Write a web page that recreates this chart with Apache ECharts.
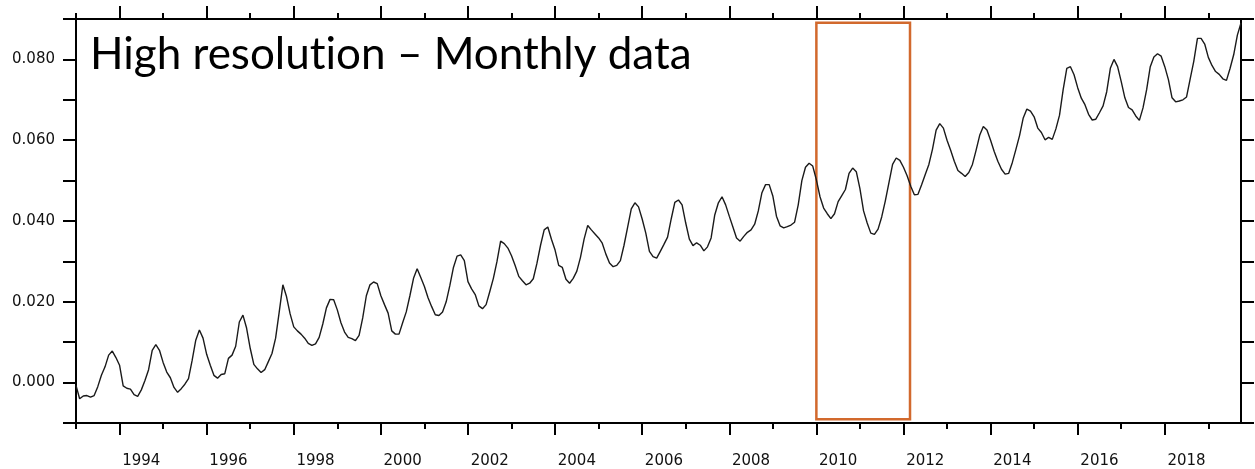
<!DOCTYPE html>
<html>
<head>
<meta charset="utf-8">
<script src="https://cdn.jsdelivr.net/npm/echarts@6/dist/echarts.min.js"></script>
<style>
  html, body { margin: 0; padding: 0; background: #fff; }
  #chart { width: 1255px; height: 469px; }
</style>
</head>
<body>
<div id="chart"></div>
<script>
// ---- data (monthly, starting January 1993) ----
const startYear = 1993;
// title split into two rich-text pieces so the font does not draw a "ti" ligature
const titleParts = ['High resolut', 'ion \u2013 Monthly data'];

const values1993to1999 = [
  -0.0007, -0.0040, -0.0033, -0.0032, -0.0036, -0.0032, -0.0010, 0.0018, 0.0039, 0.0068, 0.0078, 0.0062,
  0.0043, -0.0008, -0.0014, -0.0016, -0.0030, -0.0034, -0.0018, 0.0005, 0.0032, 0.0080, 0.0094, 0.0080,
  0.0050, 0.0026, 0.0012, -0.0012, -0.0024, -0.0015, -0.0004, 0.0010, 0.0055, 0.0105, 0.0130, 0.0110,
  0.0070, 0.0043, 0.0018, 0.0011, 0.0020, 0.0022, 0.0060, 0.0068, 0.0090, 0.0150, 0.0167, 0.0135,
  0.0085, 0.0045, 0.0034, 0.0025, 0.0032, 0.0052, 0.0072, 0.0110, 0.0175, 0.0242, 0.0213, 0.0170,
  0.0138, 0.0128, 0.0120, 0.0110, 0.0097, 0.0092, 0.0096, 0.0112, 0.0145, 0.0185, 0.0206, 0.0205,
  0.0180, 0.0148, 0.0125, 0.0112, 0.0109, 0.0104, 0.0117, 0.0160, 0.0215, 0.0242, 0.0249, 0.0245
];
const values2000to2009 = [
  0.0215, 0.0193, 0.0172, 0.0128, 0.0120, 0.0120, 0.0148, 0.0175, 0.0215, 0.0258, 0.0282, 0.0260,
  0.0238, 0.0210, 0.0188, 0.0168, 0.0166, 0.0175, 0.0200, 0.0240, 0.0285, 0.0313, 0.0316, 0.0302,
  0.0250, 0.0232, 0.0218, 0.0190, 0.0183, 0.0193, 0.0225, 0.0258, 0.0300, 0.0350, 0.0344, 0.0333,
  0.0314, 0.0290, 0.0263, 0.0252, 0.0242, 0.0246, 0.0257, 0.0295, 0.0340, 0.0378, 0.0385, 0.0355,
  0.0328, 0.0290, 0.0285, 0.0256, 0.0246, 0.0258, 0.0276, 0.0310, 0.0355, 0.0389, 0.0378, 0.0368,
  0.0358, 0.0345, 0.0318, 0.0296, 0.0287, 0.0290, 0.0302, 0.0340, 0.0385, 0.0430, 0.0445, 0.0435,
  0.0405, 0.0370, 0.0325, 0.0312, 0.0308, 0.0325, 0.0342, 0.0360, 0.0405, 0.0446, 0.0452, 0.0440,
  0.0395, 0.0355, 0.0339, 0.0346, 0.0340, 0.0326, 0.0336, 0.0358, 0.0415, 0.0445, 0.0460, 0.0440,
  0.0412, 0.0385, 0.0358, 0.0350, 0.0362, 0.0372, 0.0378, 0.0392, 0.0425, 0.0470, 0.0490, 0.0490,
  0.0462, 0.0412, 0.0388, 0.0383, 0.0386, 0.0390, 0.0397, 0.0440, 0.0500, 0.0533, 0.0543, 0.0536
];
const values2010to2019 = [
  0.0502, 0.0460, 0.0432, 0.0418, 0.0406, 0.0418, 0.0448, 0.0463, 0.0478, 0.0518, 0.0531, 0.0522,
  0.0480, 0.0425, 0.0395, 0.0370, 0.0367, 0.0380, 0.0410, 0.0450, 0.0495, 0.0540, 0.0556, 0.0550,
  0.0533, 0.0512, 0.0486, 0.0465, 0.0466, 0.0490, 0.0515, 0.0540, 0.0578, 0.0625, 0.0641, 0.0630,
  0.0600, 0.0575, 0.0548, 0.0525, 0.0518, 0.0510, 0.0520, 0.0540, 0.0575, 0.0612, 0.0634, 0.0625,
  0.0600, 0.0572, 0.0548, 0.0528, 0.0516, 0.0518, 0.0545, 0.0578, 0.0612, 0.0655, 0.0677, 0.0672,
  0.0658, 0.0630, 0.0619, 0.0601, 0.0607, 0.0602, 0.0628, 0.0662, 0.0725, 0.0778, 0.0782, 0.0762,
  0.0730, 0.0704, 0.0688, 0.0664, 0.0650, 0.0652, 0.0668, 0.0685, 0.0720, 0.0778, 0.0800, 0.0782,
  0.0745, 0.0705, 0.0681, 0.0675, 0.0660, 0.0649, 0.0680, 0.0725, 0.0782, 0.0806, 0.0814, 0.0808,
  0.0782, 0.0750, 0.0705, 0.0695, 0.0697, 0.0700, 0.0707, 0.0752, 0.0796, 0.0852, 0.0852, 0.0838,
  0.0805, 0.0785, 0.0770, 0.0763, 0.0752, 0.0748, 0.0778, 0.0812, 0.0860, 0.0890
];

const yearTickValues = [1993,1994,1995,1996,1997,1998,1999,2000,2001,2002,2003,2004,2005,2006,
  2007,2008,2009,2010,2011,2012,2013,2014,2015,2016,2017,2018,2019];
const labelledYears = [1994,1996,1998,2000,2002,2004,2006,2008,2010,2012,2014,2016,2018];

// highlighted window (years, value)
const boxYears = [2010.0, 2012.15];
const boxValues = [-0.0091, 0.0891];

// ---- build ----
const allValues = values1993to1999.concat(values2000to2009, values2010to2019);
const seriesData = allValues.map((v, i) => [startYear + i / 12, v]);

const xMin = 1993, xMax = 2019.75;
const yMin = -0.01, yMax = 0.09;

const black = '#000';
const axisLineStyle = { show: true, onZero: false, lineStyle: { color: black, width: 2 } };
const noLine = { show: false, onZero: false };
const tickStyle = { color: black, width: 2 };
const labelFont = { fontFamily: 'DejaVu Sans', fontSize: 15, color: '#111' };
const titleFont = { fontFamily: 'Lato', fontSize: 44, fontWeight: 'normal', color: '#000' };

function xAxisBase(pos) {
  return { type: 'value', min: xMin, max: xMax, position: pos, splitLine: { show: false }, gridIndex: 0 };
}

const xAxes = [
  Object.assign(xAxisBase('bottom'), {
    axisLine: axisLineStyle,
    axisTick: { show: true, customValues: yearTickValues, length: 6, lineStyle: tickStyle },
    axisLabel: Object.assign({
      show: true,
      customValues: labelledYears.map(y => y + 0.5),
      formatter: v => String(Math.floor(v)),
      margin: 31
    }, labelFont)
  }),
  Object.assign(xAxisBase('bottom'), {
    axisLine: noLine,
    axisTick: { show: true, customValues: labelledYears, length: 12, lineStyle: tickStyle },
    axisLabel: { show: false }
  }),
  Object.assign(xAxisBase('top'), {
    axisLine: axisLineStyle,
    axisTick: { show: true, customValues: yearTickValues, length: 6, lineStyle: tickStyle },
    axisLabel: { show: false }
  }),
  Object.assign(xAxisBase('top'), {
    axisLine: noLine,
    axisTick: { show: true, customValues: labelledYears, length: 13, lineStyle: tickStyle },
    axisLabel: { show: false }
  })
];

const yAxes = [
  {
    type: 'value', min: yMin, max: yMax, interval: 0.01, position: 'left',
    splitLine: { show: false },
    axisLine: axisLineStyle,
    axisTick: { show: true, length: 13, lineStyle: tickStyle },
    axisLabel: Object.assign({
      margin: 21,
      formatter: v => (Math.round(v * 1000) % 20 === 0 ? v.toFixed(3) : '')
    }, labelFont)
  },
  {
    type: 'value', min: yMin, max: yMax, interval: 0.01, position: 'right',
    splitLine: { show: false },
    axisLine: axisLineStyle,
    axisTick: { show: true, length: 13, lineStyle: tickStyle },
    axisLabel: { show: false }
  }
];

const chart = echarts.init(document.getElementById('chart'), null, { renderer: 'canvas' });
chart.setOption({
  animation: false,
  backgroundColor: '#fff',
  title: {
    text: titleParts.map(p => '{t|' + p + '}').join(''),
    left: 90,
    top: 33,
    padding: 0,
    textStyle: Object.assign({ rich: { t: titleFont } }, titleFont)
  },
  grid: { left: 76, right: 14, top: 19, bottom: 45, containLabel: false },
  xAxis: xAxes,
  yAxis: yAxes,
  series: [{
    type: 'line',
    xAxisIndex: 0,
    yAxisIndex: 0,
    data: seriesData,
    showSymbol: false,
    smooth: false,
    lineStyle: { color: '#1a1a1a', width: 1.4 },
    markArea: {
      silent: true,
      itemStyle: { color: 'rgba(0,0,0,0)', borderColor: '#d2692d', borderWidth: 2.5 },
      data: [[
        { coord: [boxYears[0], boxValues[1]] },
        { coord: [boxYears[1], boxValues[0]] }
      ]]
    }
  }]
});
</script>
</body>
</html>
